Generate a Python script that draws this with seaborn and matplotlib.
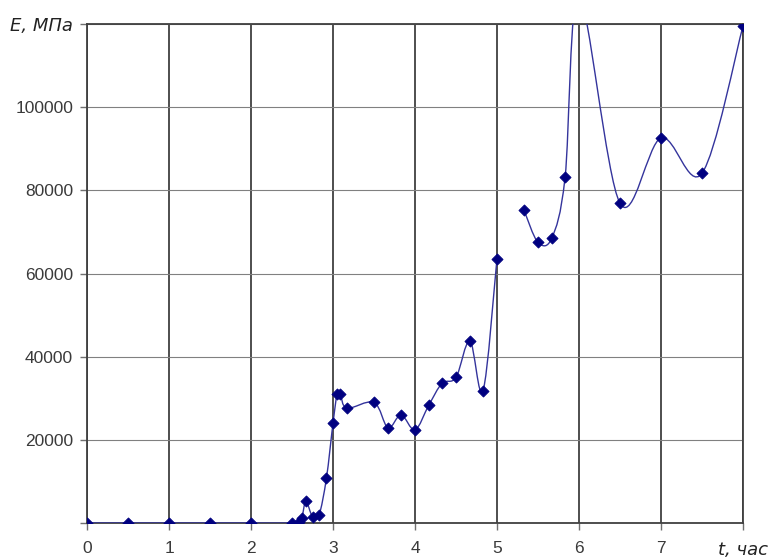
import numpy as np
import pandas as pd
import matplotlib
matplotlib.use("Agg")
import matplotlib.pyplot as plt
from matplotlib.path import Path
from matplotlib.patches import PathPatch
import seaborn as sns

# Elastic modulus E (MPa) over curing time t (hours); the series breaks after t = 5
t_first = [0, 0.5, 1, 1.5, 2, 2.5, 2.58, 2.62, 2.67, 2.75, 2.83, 2.92, 3.0,
           3.05, 3.09, 3.17, 3.5, 3.67, 3.83, 4.0, 4.17, 4.33, 4.5, 4.67, 4.83, 5.0]
E_first = [0, 0, 0, 0, 0, 0, 300, 1200, 5200, 1500, 1900, 10800, 24000,
           31000, 31000, 27600, 29000, 22900, 26000, 22400, 28400, 33600, 35000,
           43800, 31800, 63600]
t_second = [5.33, 5.5, 5.67, 5.83, 6.0, 6.5, 7.0, 7.5, 8.0]
E_second = [75200, 67500, 68600, 83100, 127000, 76900, 92600, 84100, 119500]

x_ticks = [0, 1, 2, 3, 4, 5, 6, 7, 8]
x_labels = ["0", "1", "2", "3", "4", "5", "6", "7", "t, час"]
y_ticks = [0, 20000, 40000, 60000, 80000, 100000, 120000]
y_labels = ["", "20000", "40000", "60000", "80000", "100000", "E, МПа"]

LINE = "#34349c"
MARK = "#000080"
DARK = "#404040"

sns.set_style("white")
plt.rcParams["font.family"] = ["Liberation Sans", "DejaVu Sans"]


def smooth_path(x, y):
    """Cubic Bezier path through the points (Catmull-Rom style tangents)."""
    pts = np.column_stack([x, y]).astype(float)
    n = len(pts)
    verts = [pts[0]]
    codes = [Path.MOVETO]
    for i in range(n - 1):
        p0 = pts[i - 1] if i > 0 else pts[i]
        p1 = pts[i]
        p2 = pts[i + 1]
        p3 = pts[i + 2] if i + 2 < n else pts[i + 1]
        verts += [p1 + (p2 - p0) / 6.0, p2 - (p3 - p1) / 6.0, p2]
        codes += [Path.CURVE4] * 3
    return Path(verts, codes)


fig = plt.figure(figsize=(7.71, 5.60), dpi=100)
ax = fig.add_axes([87 / 771, 1 - 523 / 560, (743 - 87) / 771, (523 - 24) / 560])

for tx, ey in ((t_first, E_first), (t_second, E_second)):
    ax.add_patch(PathPatch(smooth_path(tx, ey), fill=False, edgecolor=LINE,
                           lw=1.0, transform=ax.transData, zorder=3))

pts = pd.concat([pd.DataFrame({"t": t_first, "E": E_first}),
                 pd.DataFrame({"t": t_second, "E": E_second})], ignore_index=True)
sns.scatterplot(data=pts, x="t", y="E", marker="D", s=32, color=MARK,
                edgecolor=MARK, linewidth=0.6, ax=ax, zorder=4)

ax.set_xlim(0, 8)
ax.set_ylim(0, 120000)
ax.set_xticks(x_ticks)
ax.set_xticklabels(x_labels)
ax.set_yticks(y_ticks)
ax.set_yticklabels(y_labels)
ax.set_xlabel("")
ax.set_ylabel("")

ax.xaxis.grid(True, color=DARK, lw=1.3)
ax.yaxis.grid(True, color="#808080", lw=0.8)
ax.set_axisbelow(True)
for sp in ax.spines.values():
    sp.set_color(DARK)
    sp.set_linewidth(1.3)

ax.tick_params(axis="both", which="major", direction="out", length=5, width=1.0,
               color="#707070", labelsize=12.5, labelcolor="#3a3a3a", pad=5)
ax.tick_params(axis="x", pad=8)
ax.tick_params(left=True, bottom=True)

unit_font = dict(family=["Liberation Sans Narrow", "DejaVu Sans"], style="italic",
                 size=13, color="#222222")
ax.get_yticklabels()[-1].set(**unit_font)
ax.get_xticklabels()[-1].set(**unit_font)

fig.savefig("out.png", dpi=100)
